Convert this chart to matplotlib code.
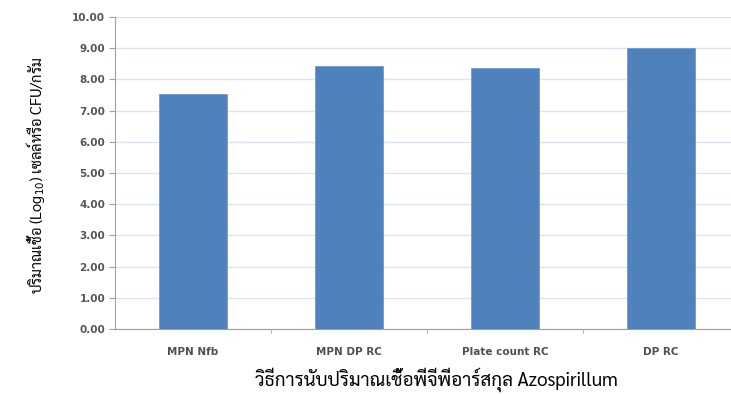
import matplotlib
matplotlib.use('Agg')
import matplotlib.pyplot as plt

methods = ['MPN Nfb', 'MPN DP RC', 'Plate count RC', 'DP RC']
counts = [7.52, 8.44, 8.36, 9.00]
yticks = [0, 1, 2, 3, 4, 5, 6, 7, 8, 9, 10]

plt.rcParams['font.family'] = ['DejaVu Sans', 'Sarabun']

fig = plt.figure(figsize=(7.31, 3.94), dpi=100)
ax = fig.add_axes([115 / 731, 1 - 329 / 394, 624 / 731, 312 / 394])

x = range(len(methods))
ax.bar(x, counts, width=0.44, color='#4f81bd', edgecolor='#6f9ad0', linewidth=0.6, zorder=3)

ax.set_xlim(-0.5, 3.5)
ax.set_ylim(0, 10)
ax.set_yticks(yticks)
ax.set_yticklabels([f'{v:.2f}' for v in yticks], fontsize=7.5, color='#555555', fontweight='bold')
ax.set_xticks(list(x))
ax.set_xticklabels(methods, fontsize=7.5, color='#505050', fontweight='bold')
ax.tick_params(axis='x', length=0, pad=13)
ax.set_xticks([0.5, 1.5, 2.5], minor=True)
ax.tick_params(axis='x', which='minor', length=3, color='#a0a0a0')
ax.tick_params(axis='y', length=4, color='#a0a0a0', pad=3)

ax.grid(axis='y', color='#dbe5f1', linewidth=1, zorder=0)
for s in ['top', 'right']:
    ax.spines[s].set_visible(False)
ax.spines['left'].set_color('#a0a0a0')
ax.spines['bottom'].set_color('#a0a0a0')

thai = ['Sarabun', 'DejaVu Sans']
fig.text(36 / 731, 1 - 175 / 394, 'ปริมาณเชื้อ (Log$_{10}$) เซลล์หรือ CFU/กรัม', rotation=90,
         ha='center', va='center', fontsize=10.5, family=thai)
fig.text(437 / 731, 1 - 380 / 394, 'วิธีการนับปริมาณเชื้อพีจีพีอาร์สกุล Azospirillum',
         ha='center', va='center', fontsize=13.5, family=thai)

fig.savefig('out.png', dpi=100)
